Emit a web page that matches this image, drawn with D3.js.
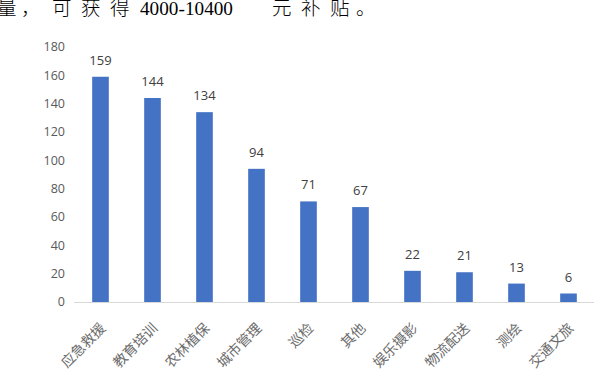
<!DOCTYPE html>
<meta charset="utf-8">
<style>
body { margin: 0; background: #fff; }
.tick-label { font-family: "Open Sans", sans-serif; font-size: 12.5px; fill: #595959; }
.value-label { font-family: "Open Sans", sans-serif; font-size: 13px; fill: #404040; }
.cat-label { font-family: "Noto Sans CJK SC", sans-serif; font-size: 14px; fill: #6b6b6b; }
.head { font-size: 19.5px; fill: #000; }
.head-cjk { font-family: "Noto Sans CJK SC", sans-serif; font-weight: 300; }
.head-latin { font-family: "Liberation Serif", "Times New Roman", serif; font-weight: 400; }
</style>
<body></body>
<script src="https://cdn.jsdelivr.net/npm/d3@7"></script>
<script>
// data
var categories = ["应急救援", "教育培训", "农林植保", "城市管理", "巡检", "其他", "娱乐摄影", "物流配送", "测绘", "交通文旅"];
var counts = [159, 144, 134, 94, 71, 67, 22, 21, 13, 6];
var yTicks = [0, 20, 40, 60, 80, 100, 120, 140, 160, 180];

// the line of body text above the chart, split the way the page justified it
var headPieces = ["量", "，", "可", "获", "得", "4000-10400", "元", "补", "贴", "。"];
var headX = [-3, 21, 52, 81, 110, 140, 272, 301, 330, 356];

var width = 600, height = 389;

var svg = d3.select("body").append("svg")
    .attr("width", width)
    .attr("height", height);

svg.selectAll(".head").data(headPieces)
    .enter().append("text")
    .attr("class", function(d) { return /[0-9]/.test(d) ? "head head-latin" : "head head-cjk"; })
    .attr("x", function(d, i) { return headX[i]; })
    .attr("y", 14.5)
    .attr("textLength", function(d) { return /[0-9]/.test(d) ? 93 : null; })
    .attr("lengthAdjust", "spacingAndGlyphs")
    .text(function(d) { return d; });

var x = d3.scaleBand().domain(categories).range([74.5, 594.5]).paddingInner(0.68).paddingOuter(0.34);
var y = d3.scaleLinear().domain([0, 180]).range([302, 47]);

// y tick labels, no axis line
svg.selectAll(".tick-label").data(yTicks)
    .enter().append("text")
    .attr("class", "tick-label")
    .attr("x", 65)
    .attr("y", function(d) { return y(d); })
    .attr("dy", "0.35em")
    .attr("text-anchor", "end")
    .text(function(d) { return d; });

// bars
svg.selectAll(".bar").data(counts)
    .enter().append("rect")
    .attr("class", "bar")
    .attr("x", function(d, i) { return x(categories[i]); })
    .attr("y", function(d) { return y(d); })
    .attr("width", x.bandwidth())
    .attr("height", function(d) { return y(0) - y(d); })
    .attr("fill", "#4472C4");

// baseline
svg.append("line")
    .attr("x1", 74).attr("x2", 594)
    .attr("y1", y(0) + 0.5).attr("y2", y(0) + 0.5)
    .attr("stroke", "#d9d9d9")
    .attr("stroke-width", 1);

// value labels
svg.selectAll(".value-label").data(counts)
    .enter().append("text")
    .attr("class", "value-label")
    .attr("x", function(d, i) { return x(categories[i]) + x.bandwidth() / 2; })
    .attr("y", function(d) { return y(d) - 12; })
    .attr("text-anchor", "middle")
    .text(function(d) { return d; });

// category labels, rotated
svg.selectAll(".cat-label").data(categories)
    .enter().append("text")
    .attr("class", "cat-label")
    .attr("text-anchor", "end")
    .attr("transform", function(d) {
        return "translate(" + (x(d) + x.bandwidth() / 2 + 6) + "," + 329 + ") rotate(-45)";
    })
    .text(function(d) { return d; });
</script>
